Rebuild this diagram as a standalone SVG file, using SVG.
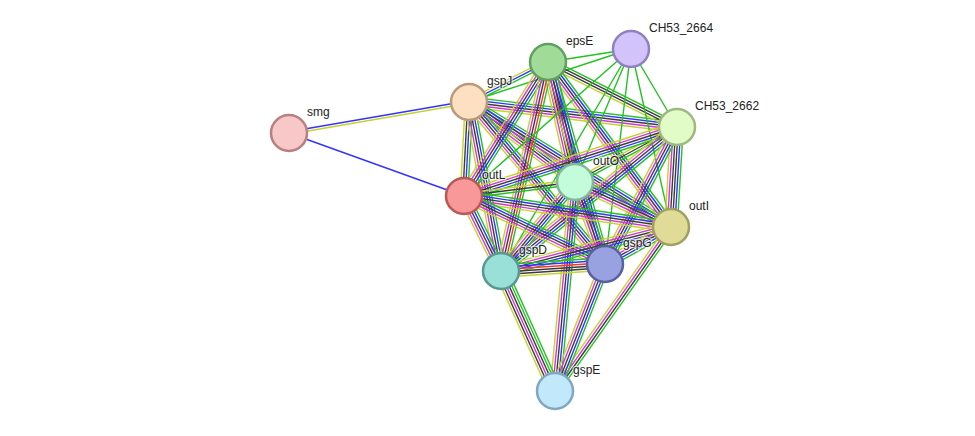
<svg xmlns="http://www.w3.org/2000/svg" xmlns:xlink="http://www.w3.org/1999/xlink" width="975" height="436" viewBox="0 0 975 436">
<style>
line{stroke-width:1.4;vector-effect:non-scaling-stroke;fill:none}
.g{stroke:#22c222}.b{stroke:#3333ff}.k{stroke:#3c3c3c}.m{stroke:#d633d6}.y{stroke:#c5d32f}.r{stroke:#ff3030}
.node circle{stroke-width:2.5}
.node text{font-family:"Liberation Sans",Arial,sans-serif;font-size:12px;fill:#222;stroke:#fff;stroke-width:2.5;stroke-opacity:0.6;paint-order:stroke;stroke-linejoin:round}
</style>
<defs>
<g id="bSJ"><line x2="1" y1="-1.25" y2="-1.25" class="b"/><line x2="1" y1="1.25" y2="1.25" class="y"/></g>
<g id="bB"><line x2="1" class="b"/></g>
<g id="bG"><line x2="1" class="g"/></g>
<g id="bJE"><line x2="1" y1="-2.5" y2="-2.5" class="y"/><line x2="1" class="b"/><line x2="1" y1="2.5" y2="2.5" class="g"/></g>
<g id="c5"><line x2="1" y1="-5" y2="-5" class="g"/><line x2="1" y1="-2.5" y2="-2.5" class="b"/><line x2="1" class="k"/><line x2="1" y1="2.5" y2="2.5" class="m"/><line x2="1" y1="5" y2="5" class="y"/></g>
<g id="bJL"><line x2="1" y1="-3.75" y2="-3.75" class="g"/><line x2="1" y1="-1.25" y2="-1.25" class="b"/><line x2="1" y1="1.25" y2="1.25" class="k"/><line x2="1" y1="3.75" y2="3.75" class="y"/></g>
<g id="bEB"><line x2="1" y1="-3.75" y2="-3.75" class="g"/><line x2="1" y1="-1.25" y2="-1.25" class="k"/><line x2="1" y1="1.25" y2="1.25" class="k"/><line x2="1" y1="3.75" y2="3.75" class="y"/></g>
<g id="c6k"><line x2="1" y1="-6.25" y2="-6.25" class="g"/><line x2="1" y1="-3.75" y2="-3.75" class="b"/><line x2="1" y1="-1.25" y2="-1.25" class="k"/><line x2="1" y1="1.25" y2="1.25" class="k"/><line x2="1" y1="3.75" y2="3.75" class="m"/><line x2="1" y1="6.25" y2="6.25" class="y"/></g>
<g id="bED"><line x2="1" y1="-5" y2="-5" class="g"/><line x2="1" y1="-2.5" y2="-2.5" class="r"/><line x2="1" class="k"/><line x2="1" y1="2.5" y2="2.5" class="m"/><line x2="1" y1="5" y2="5" class="y"/></g>
<g id="bGKY"><line x2="1" y1="-2.5" y2="-2.5" class="g"/><line x2="1" class="k"/><line x2="1" y1="2.5" y2="2.5" class="y"/></g>
<g id="bIX"><line x2="1" y1="-3.75" y2="-3.75" class="g"/><line x2="1" y1="-1.25" y2="-1.25" class="k"/><line x2="1" y1="1.25" y2="1.25" class="m"/><line x2="1" y1="3.75" y2="3.75" class="y"/></g>
<g id="bDG"><line x2="1" y1="-6.25" y2="-6.25" class="g"/><line x2="1" y1="-3.75" y2="-3.75" class="b"/><line x2="1" y1="-1.25" y2="-1.25" class="r"/><line x2="1" y1="1.25" y2="1.25" class="k"/><line x2="1" y1="3.75" y2="3.75" class="k"/><line x2="1" y1="6.25" y2="6.25" class="y"/></g>
<g id="bDX"><line x2="1" y1="-6.25" y2="-6.25" class="g"/><line x2="1" y1="-3.75" y2="-3.75" class="g"/><line x2="1" y1="-1.25" y2="-1.25" class="k"/><line x2="1" y1="1.25" y2="1.25" class="m"/><line x2="1" y1="3.75" y2="3.75" class="k"/><line x2="1" y1="6.25" y2="6.25" class="y"/></g>
</defs>
<rect width="975" height="436" fill="#fff"/>
<g id="edges">
<use xlink:href="#bSJ" transform="translate(289,133) rotate(-9.77) scale(182.65,1)"/>
<use xlink:href="#bB" transform="translate(289,133) rotate(19.80) scale(186,1)"/>
<use xlink:href="#bJE" transform="translate(469,102) rotate(-26.86) scale(88.55,1)"/>
<use xlink:href="#bG" transform="translate(469,102) rotate(-18.12) scale(170.45,1)"/>
<use xlink:href="#c5" transform="translate(469,102) rotate(6.85) scale(209.5,1)"/>
<use xlink:href="#c5" transform="translate(469,102) rotate(37.04) scale(132.8,1)"/>
<use xlink:href="#bJL" transform="translate(469,102) rotate(93.04) scale(94.13,1)"/>
<use xlink:href="#c5" transform="translate(469,102) rotate(31.75) scale(237.55,1)"/>
<use xlink:href="#c5" transform="translate(469,102) rotate(79.28) scale(172,1)"/>
<use xlink:href="#c5" transform="translate(469,102) rotate(49.99) scale(211.5,1)"/>
<use xlink:href="#bG" transform="translate(548,62) rotate(-8.90) scale(84,1)"/>
<use xlink:href="#bEB" transform="translate(548,62) rotate(26.74) scale(144.45,1)"/>
<use xlink:href="#c6k" transform="translate(548,62) rotate(77.32) scale(123,1)"/>
<use xlink:href="#c5" transform="translate(548,62) rotate(122.08) scale(158.15,1)"/>
<use xlink:href="#c5" transform="translate(548,62) rotate(53.30) scale(205.8,1)"/>
<use xlink:href="#bED" transform="translate(548,62) rotate(102.67) scale(214.2,1)"/>
<use xlink:href="#c5" transform="translate(548,62) rotate(74.24) scale(209.9,1)"/>
<use xlink:href="#bG" transform="translate(631,49) rotate(59.47) scale(90.55,1)"/>
<use xlink:href="#bG" transform="translate(631,49) rotate(112.83) scale(144.3,1)"/>
<use xlink:href="#bG" transform="translate(631,49) rotate(138.64) scale(222.5,1)"/>
<use xlink:href="#bG" transform="translate(631,49) rotate(77.33) scale(182.4,1)"/>
<use xlink:href="#bG" transform="translate(631,49) rotate(96.90) scale(216.6,1)"/>
<use xlink:href="#bG" transform="translate(631,49) rotate(120.36) scale(257.3,1)"/>
<use xlink:href="#bGKY" transform="translate(677,127) rotate(151.67) scale(115.9,1)"/>
<use xlink:href="#c5" transform="translate(677,127) rotate(162.05) scale(223.9,1)"/>
<use xlink:href="#c6k" transform="translate(677,127) rotate(93.43) scale(100.18,1)"/>
<use xlink:href="#c5" transform="translate(677,127) rotate(140.71) scale(227.4,1)"/>
<use xlink:href="#c5" transform="translate(677,127) rotate(117.73) scale(154.8,1)"/>
<use xlink:href="#bGKY" transform="translate(575,182) rotate(172.81) scale(111.9,1)"/>
<use xlink:href="#c5" transform="translate(575,182) rotate(25.11) scale(106,1)"/>
<use xlink:href="#c5" transform="translate(575,182) rotate(129.74) scale(115.7,1)"/>
<use xlink:href="#c5" transform="translate(575,182) rotate(69.90) scale(87.3,1)"/>
<use xlink:href="#c5" transform="translate(575,182) rotate(95.47) scale(209.95,1)"/>
<use xlink:href="#c5" transform="translate(464,196) rotate(8.52) scale(209.3,1)"/>
<use xlink:href="#c5" transform="translate(464,196) rotate(63.74) scale(83.6,1)"/>
<use xlink:href="#c5" transform="translate(464,196) rotate(25.75) scale(156.5,1)"/>
<use xlink:href="#c5" transform="translate(671,227) rotate(165.49) scale(175.6,1)"/>
<use xlink:href="#c5" transform="translate(671,227) rotate(150.72) scale(75.7,1)"/>
<use xlink:href="#bIX" transform="translate(671,227) rotate(125.27) scale(200.9,1)"/>
<use xlink:href="#bDG" transform="translate(501,271) rotate(-3.85) scale(104.2,1)"/>
<use xlink:href="#bDX" transform="translate(501,271) rotate(65.77) scale(131.6,1)"/>
<use xlink:href="#c5" transform="translate(605,264) rotate(111.49) scale(136.5,1)"/>
</g>
<g id="smg" class="node"><circle cx="289" cy="133" r="18" fill="#f8c8c8" stroke="#b88080"/><text x="307" y="116">smg</text></g>
<g id="gspJ" class="node"><circle cx="469" cy="102" r="18" fill="#fde0c2" stroke="#b89a7a"/><text x="487" y="85">gspJ</text></g>
<g id="epsE" class="node"><circle cx="548" cy="62" r="18" fill="#a0dc98" stroke="#60a060"/><text x="566" y="45">epsE</text></g>
<g id="CH53_2664" class="node"><circle cx="631" cy="49" r="18" fill="#d2c4fa" stroke="#9080c0"/><text x="649" y="32">CH53_2664</text></g>
<g id="CH53_2662" class="node"><circle cx="677" cy="127" r="18" fill="#e2fcc8" stroke="#a0b880"/><text x="695" y="110">CH53_2662</text></g>
<g id="outO" class="node"><circle cx="575" cy="182" r="18" fill="#c2fcda" stroke="#80b898"/><text x="593" y="165">outO</text></g>
<g id="outL" class="node"><circle cx="464" cy="196" r="18" fill="#f89898" stroke="#b85858"/><text x="482" y="179">outL</text></g>
<g id="outI" class="node"><circle cx="671" cy="227" r="18" fill="#e0dc98" stroke="#a0a060"/><text x="689" y="210">outI</text></g>
<g id="gspD" class="node"><circle cx="501" cy="271" r="18" fill="#98e0d8" stroke="#589890"/><text x="519" y="254">gspD</text></g>
<g id="gspG" class="node"><circle cx="605" cy="264" r="18" fill="#98a2e0" stroke="#5860a0"/><text x="623" y="247">gspG</text></g>
<g id="gspE" class="node"><circle cx="555" cy="391" r="18" fill="#c2e8fc" stroke="#80a8c0"/><text x="573" y="374">gspE</text></g>
</svg>
